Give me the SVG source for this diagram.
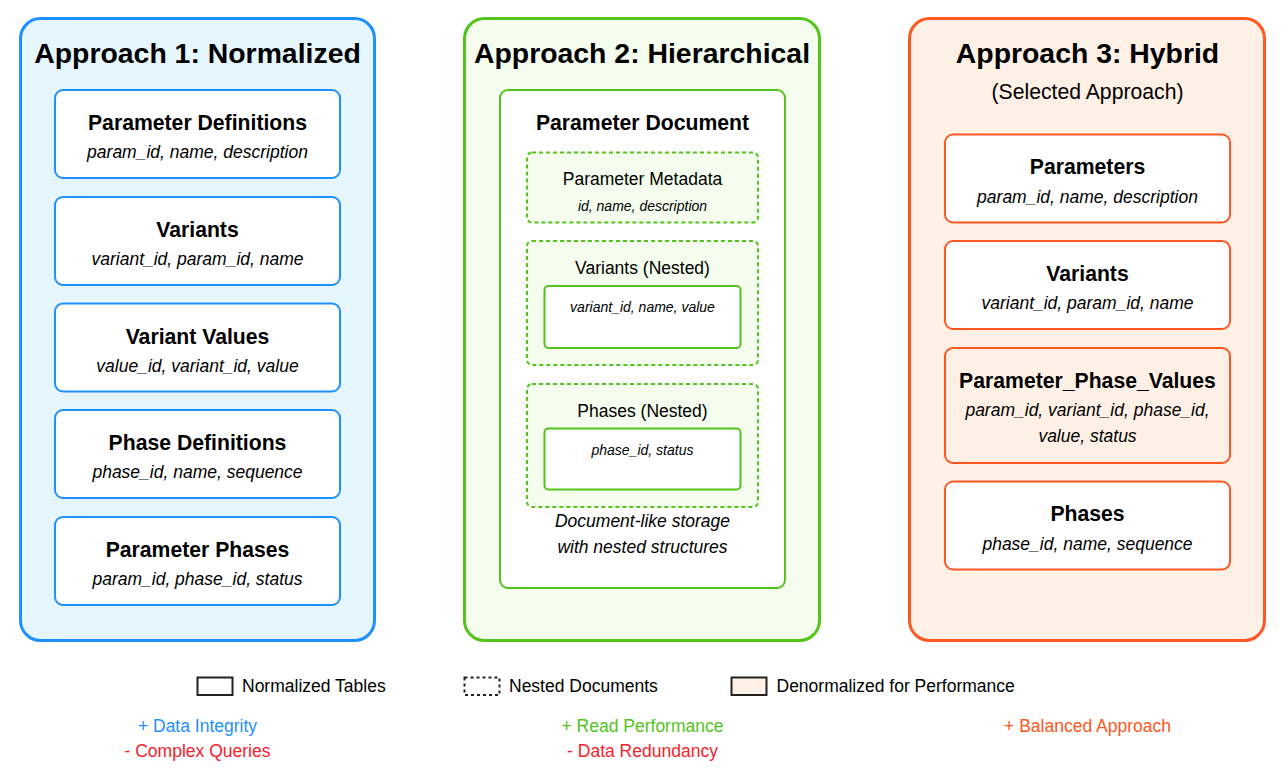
<svg xmlns="http://www.w3.org/2000/svg" width="1288" height="768" viewBox="0 0 1288 768">
<style>
text{font-family:"Liberation Sans",Arial,sans-serif;fill:#000;text-anchor:middle}
.title{font-size:28.4px;font-weight:bold}
.hdr{font-size:21.2px;font-weight:bold}
.it{font-size:17.5px;font-style:italic}
.reg{font-size:17.5px}
.sm{font-size:14px;font-style:italic}
.lg{font-size:17.5px;text-anchor:start}
.p1{fill:#E6F6FF;stroke:#1E90FF;stroke-width:3}
.p2{fill:#F4FDEE;stroke:#52C41A;stroke-width:3}
.p3{fill:#FFF0E6;stroke:#FF5722;stroke-width:3}
.b1{fill:#fff;stroke:#1E90FF;stroke-width:2}
.b2{fill:#fff;stroke:#52C41A;stroke-width:2}
.d2{fill:#F4FDEE;stroke:#52C41A;stroke-width:2;stroke-dasharray:4 3}
.b3{fill:#fff;stroke:#FF5722;stroke-width:2}
.b3d{fill:#FFF0E6;stroke:#FF5722;stroke-width:2}
</style>
<rect width="1288" height="768" fill="#fff"/>

<g id="approach1">
<rect class="p1" x="20.5" y="18.5" width="354" height="622" rx="20"/>
<text class="title" x="197.5" y="63">Approach 1: Normalized</text>
</g>
<g id="param-definitions">
<rect class="b1" x="55" y="90" width="285" height="88" rx="8"/>
<text class="hdr" x="197.5" y="130">Parameter Definitions</text>
<text class="it" x="197.5" y="158">param_id, name, description</text>
</g>
<g id="variants1">
<rect class="b1" x="55" y="197" width="285" height="88" rx="8"/>
<text class="hdr" x="197.5" y="237">Variants</text>
<text class="it" x="197.5" y="265">variant_id, param_id, name</text>
</g>
<g id="variant-values">
<rect class="b1" x="55" y="303.5" width="285" height="88" rx="8"/>
<text class="hdr" x="197.5" y="343.5">Variant Values</text>
<text class="it" x="197.5" y="371.5">value_id, variant_id, value</text>
</g>
<g id="phase-definitions">
<rect class="b1" x="55" y="410" width="285" height="88" rx="8"/>
<text class="hdr" x="197.5" y="450">Phase Definitions</text>
<text class="it" x="197.5" y="478">phase_id, name, sequence</text>
</g>
<g id="parameter-phases">
<rect class="b1" x="55" y="517" width="285" height="88" rx="8"/>
<text class="hdr" x="197.5" y="557">Parameter Phases</text>
<text class="it" x="197.5" y="585">param_id, phase_id, status</text>
</g>

<g id="approach2">
<rect class="p2" x="464.5" y="18.5" width="355" height="622" rx="20"/>
<text class="title" x="642" y="63">Approach 2: Hierarchical</text>
</g>
<g id="parameter-document">
<rect class="b2" x="500" y="90" width="285" height="498" rx="8"/>
<text class="hdr" x="642.5" y="130">Parameter Document</text>
<text class="it" x="642.5" y="527">Document-like storage</text>
<text class="it" x="642.5" y="553">with nested structures</text>
</g>
<g id="parameter-metadata">
<rect class="d2" x="527" y="152.5" width="231" height="70" rx="5"/>
<text class="reg" x="642.5" y="184.5">Parameter Metadata</text>
<text class="sm" x="642.5" y="211">id, name, description</text>
</g>
<g id="variants-nested">
<rect class="d2" x="527" y="241" width="231" height="124" rx="5"/>
<text class="reg" x="642.5" y="273.5">Variants (Nested)</text>
<rect class="b2" x="544.5" y="286" width="196" height="62" rx="4"/>
<text class="sm" x="642.5" y="312">variant_id, name, value</text>
</g>
<g id="phases-nested">
<rect class="d2" x="527" y="384" width="231" height="123" rx="5"/>
<text class="reg" x="642.5" y="416.5">Phases (Nested)</text>
<rect class="b2" x="544.5" y="428.5" width="196" height="61" rx="4"/>
<text class="sm" x="642.5" y="455">phase_id, status</text>
</g>

<g id="approach3">
<rect class="p3" x="909.5" y="18.5" width="355" height="622" rx="20"/>
<text class="title" x="1087.5" y="63">Approach 3: Hybrid</text>
<text x="1087.5" y="99" style="font-size:21.2px">(Selected Approach)</text>
</g>
<g id="parameters">
<rect class="b3" x="945" y="134.5" width="285" height="88" rx="8"/>
<text class="hdr" x="1087.5" y="174">Parameters</text>
<text class="it" x="1087.5" y="202.5">param_id, name, description</text>
</g>
<g id="variants3">
<rect class="b3" x="945" y="241" width="285" height="88" rx="8"/>
<text class="hdr" x="1087.5" y="281">Variants</text>
<text class="it" x="1087.5" y="309">variant_id, param_id, name</text>
</g>
<g id="parameter-phase-values">
<rect class="b3d" x="945" y="348" width="285" height="115" rx="8"/>
<text class="hdr" x="1087.5" y="388">Parameter_Phase_Values</text>
<text class="it" x="1087.5" y="416">param_id, variant_id, phase_id,</text>
<text class="it" x="1087.5" y="442">value, status</text>
</g>
<g id="phases3">
<rect class="b3" x="945" y="481.5" width="285" height="88" rx="8"/>
<text class="hdr" x="1087.5" y="521">Phases</text>
<text class="it" x="1087.5" y="549.5">phase_id, name, sequence</text>
</g>

<g id="connectors"></g>

<g id="legend">
<rect x="197.5" y="677.5" width="35" height="17.5" fill="#fff" stroke="#222" stroke-width="2"/>
<text class="lg" x="242" y="691.5">Normalized Tables</text>
<rect x="464.5" y="677.5" width="35" height="17.5" fill="#fff" stroke="#222" stroke-width="2" stroke-dasharray="3 3"/>
<text class="lg" x="509" y="691.5">Nested Documents</text>
<rect x="731.5" y="677.5" width="35" height="17.5" fill="#FFF0E6" stroke="#222" stroke-width="2"/>
<text class="lg" x="776.5" y="691.5">Denormalized for Performance</text>
</g>

<g id="notes">
<text class="reg" x="197.5" y="731.5" style="fill:#1E90FF">+ Data Integrity</text>
<text class="reg" x="197.5" y="757" style="fill:#F5222D">- Complex Queries</text>
<text class="reg" x="642.5" y="731.5" style="fill:#52C41A">+ Read Performance</text>
<text class="reg" x="642.5" y="757" style="fill:#F5222D">- Data Redundancy</text>
<text class="reg" x="1087.5" y="731.5" style="fill:#FF5722">+ Balanced Approach</text>
</g>
</svg>
